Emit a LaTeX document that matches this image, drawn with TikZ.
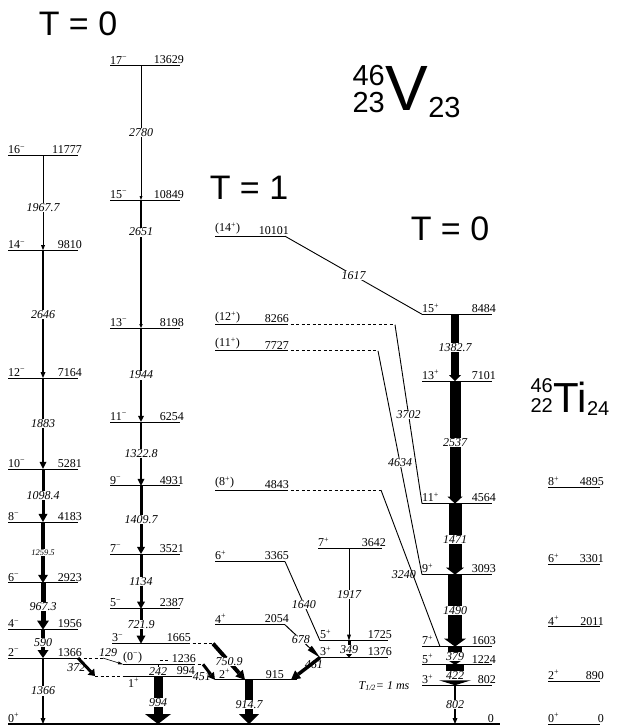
\documentclass[tikz,border=0pt]{standalone}
\usepackage{fontspec}
\setmainfont{Liberation Serif}
\newfontfamily\hv{Liberation Sans}
\usetikzlibrary{arrows.meta,calc}

\newcommand{\lab}{\fontsize{12}{13}\selectfont}
\newcommand{\mi}{\textsuperscript{−}}
\newcommand{\pl}{\textsuperscript{+}}
% level: name, x left, x right, energy, spin
\newcommand{\level}[5]{%
  \draw[lvl] (#2,{724-0.0483*#4}) coordinate (#1w) -- (#3,{724-0.0483*#4}) coordinate (#1e);
  \node[jlab] (#1j) at (#1w) {#5};
  \node[elab] (#1n) at (#1e) {#4};
}

\begin{document}
\begin{tikzpicture}[x=1pt, y=-1pt,
  lvl/.style={line width=0.9pt},
  gnd/.style={line width=1.6pt},
  dl/.style={line width=0.8pt, dash pattern=on 3pt off 2.5pt},
  gl/.style={line width=0.9pt},
  g/.style args={#1/#2/#3}{line width=#1, -{Triangle[length=#2, width=#3, line width=0pt]}},
  jlab/.style={anchor=south west, inner sep=0pt, yshift=1.5pt, font=\lab},
  elab/.style={anchor=south east, inner sep=0pt, xshift=4pt, yshift=1.5pt, font=\lab},
  tlab/.style={font=\lab\itshape, fill=white, inner sep=0.5pt},
  big/.style={font=\hv\fontsize{34}{34}\selectfont, inner sep=0pt},
  nuc/.style={font=\hv\fontsize{#1}{#1}\selectfont, inner sep=0pt}]
\useasboundingbox (0,0) rectangle (617,728);

\coordinate (c1) at (43,0);
\coordinate (c2) at (141,0);
\coordinate (c3) at (455,0);
\coordinate (c4) at (349,0);

\node[big] (tza) at (78,24) {T = 0};
\node[big] (tone) at (249,188) {T = 1};
\node[big] (tzb) at (450,229) {T = 0};

\node[nuc=64, anchor=base west] (vsym) at (385,110) {V};
\node[nuc=29, anchor=base east] (vmass) at (vsym.base west |- 0,85) {46};
\node[nuc=29, anchor=base east] (vz) at (vsym.base west |- 0,112) {23};
\node[nuc=29, anchor=base west] (vn) at (vsym.base east |- 0,117) {23};

\node[nuc=42, anchor=base west] (tisym) at (553,412) {Ti};
\node[nuc=20, anchor=base east] (timass) at (tisym.base west |- 0,392) {46};
\node[nuc=20, anchor=base east] (tiz) at (tisym.base west |- 0,412) {22};
\node[nuc=20, anchor=base west] (tin) at (tisym.base east |- 0,415) {24};

% ground
\draw[gnd] (8,724) coordinate (g0w) -- (500,724) coordinate (g0e);
\node[jlab] (g0j) at (g0w) {0\pl};
\node[elab, xshift=-10pt] (g0n) at (g0e) {0};

% T=0 negative parity
\level{a16}{8}{78}{11777}{16\mi}
\level{a14}{8}{78}{9810}{14\mi}
\level{a12}{8}{78}{7164}{12\mi}
\level{a10}{8}{78}{5281}{10\mi}
\level{a8}{8}{78}{4183}{8\mi}
\level{a6}{8}{78}{2923}{6\mi}
\level{a4}{8}{78}{1956}{4\mi}
\level{a2}{8}{78}{1366}{2\mi}

\level{b17}{110}{180}{13629}{17\mi}
\level{b15}{110}{180}{10849}{15\mi}
\level{b13}{110}{180}{8198}{13\mi}
\level{b11}{110}{180}{6254}{11\mi}
\level{b9}{110}{180}{4931}{9\mi}
\level{b7}{110}{180}{3521}{7\mi}
\level{b5}{110}{180}{2387}{5\mi}
\level{b3}{112}{187}{1665}{3\mi}
\level{b0}{123}{192}{1236}{(0\mi)}
\draw[lvl] (123,{724-0.0483*994}) coordinate (b1w) -- (192,{724-0.0483*994}) coordinate (b1e);
\node[anchor=north west, inner sep=0pt, font=\lab, yshift=-2pt, xshift=5pt] (b1j) at (b1w) {1\pl};
\node[elab, xshift=-1pt] (b1n) at (b1e) {994};
\draw[dl] ($(b0n.south west)+(-12,-2)$) -- ++(10,0);

% T=1
\level{t14}{215}{285}{10101}{(14\pl)}
\level{t12}{215}{285}{8266}{(12\pl)}
\level{t11}{215}{285}{7727}{(11\pl)}
\level{t8}{215}{285}{4843}{(8\pl)}
\level{t6}{215}{285}{3365}{6\pl}
\level{t4}{215}{285}{2054}{4\pl}
\draw[lvl] (215,{724-0.0483*915}) coordinate (t2w) -- (297,{724-0.0483*915}) coordinate (t2e);
\node[jlab, xshift=4pt] (t2j) at (t2w) {2\pl};
\node[elab, xshift=-17pt] (t2n) at (t2e) {915};

\level{m7}{318}{382}{3642}{7\pl}
\level{m5}{320}{388}{1725}{5\pl}
\level{m3}{320}{388}{1376}{3\pl}

% T=0 positive parity
\level{r15}{422}{492}{8484}{15\pl}
\level{r13}{422}{492}{7101}{13\pl}
\level{r11}{422}{492}{4564}{11\pl}
\level{r9}{422}{492}{3093}{9\pl}
\level{r7}{422}{492}{1603}{7\pl}
\level{r5}{422}{492}{1224}{5\pl}
\level{r3}{422}{492}{802}{3\pl}

% 46Ti
\level{ti8}{548}{600}{4895}{8\pl}
\level{ti6}{548}{600}{3301}{6\pl}
\level{ti4}{548}{600}{2011}{4\pl}
\level{ti2}{548}{600}{890}{2\pl}
\level{ti0}{548}{600}{0}{0\pl}

\node[font=\lab\itshape, inner sep=0pt] (thalf) at (384,686) {T\textsubscript{1/2}= 1 ms};

% transitions
\draw[g=1pt/5pt/4pt] (c1|-a16w) -- node[tlab,pos=.55]{1967.7} (c1|-a14w);
\draw[g=2pt/6pt/5pt] (c1|-a14w) -- node[tlab]{2646} (c1|-a12w);
\draw[g=2.6pt/7pt/7pt] (c1|-a12w) -- node[tlab]{1883} (c1|-a10w);
\draw[g=3pt/8pt/9pt] (c1|-a10w) -- node[tlab]{1098.4} (c1|-a8w);
\draw[g=4.5pt/8pt/10pt] (c1|-a8w) -- node[tlab,font=\fontsize{8.5}{9}\selectfont\itshape]{1259.5} (c1|-a6w);
\draw[g=5pt/9pt/12pt] (c1|-a6w) -- node[tlab]{967.3} (c1|-a4w);
\draw[g=4pt/8pt/11pt] (c1|-a4w) -- node[tlab,pos=.45]{590} (c1|-a2w);
\draw[g=1.4pt/6pt/5pt] (c1|-a2w) -- node[tlab]{1366} (c1|-g0w);

\draw[g=1pt/4pt/3pt] (c2|-b17w) -- node[tlab]{2780} (c2|-b15w);
\draw[g=1.2pt/4pt/3.5pt] (c2|-b15w) -- node[tlab,pos=.25]{2651} (c2|-b13w);
\draw[g=2.2pt/6pt/6pt] (c2|-b13w) -- node[tlab]{1944} (c2|-b11w);
\draw[g=2.5pt/7pt/7pt] (c2|-b11w) -- node[tlab]{1322.8} (c2|-b9w);
\draw[g=3pt/7pt/8pt] (c2|-b9w) -- node[tlab]{1409.7} (c2|-b7w);
\draw[g=3pt/7pt/8pt] (c2|-b7w) -- node[tlab]{1134} (c2|-b5w);
\draw[g=3pt/8pt/9pt] (c2|-b5w) -- node[tlab,pos=.45]{721.9} (c2|-b3w);

\draw[g=8pt/6pt/12pt] (c3|-r15w) -- node[tlab]{1382.7} (c3|-r13w);
\draw[g=11pt/7pt/15pt] (c3|-r13w) -- node[tlab]{2537} (c3|-r11w);
\draw[g=13pt/7pt/18pt] (c3|-r11w) -- node[tlab]{1471} (c3|-r9w);
\draw[g=14pt/8pt/22pt] (c3|-r9w) -- node[tlab]{1490} (c3|-r7w);
\draw[g=14pt/6pt/18pt] (c3|-r7w) -- node[tlab,pos=.55]{379} (c3|-r5w);
\draw[g=18pt/5pt/32pt] (c3|-r5w) -- node[tlab]{422} (c3|-r3w);
\draw[g=1.4pt/6pt/5pt] (c3|-r3w) -- node[tlab]{802} (c3|-g0w);

\draw[gl] (t14e) -- node[tlab]{1617} (r15w);
\draw[dl] (t12e) -- ++(110,0) coordinate (t12x);
\draw[gl] (t12x) -- node[tlab]{3702} (r11w);
\draw[dl] (t11e) -- ++(93,0) coordinate (t11x);
\draw[gl] (t11x) -- node[tlab]{4634} (r9w);
\draw[dl] (t8e) -- ++(96,0) coordinate (t8x);
\coordinate (r7a) at ($(r7w)+(18,0)$);
\draw[gl] (t8x) -- node[tlab,pos=.54,xshift=-9pt,fill=none]{3240} (r7a);

\draw[gl] (t6e) -- node[tlab,pos=.54]{1640} (m5w);
\draw[g=1pt/14pt/6pt] (t4e) -- node[tlab,pos=.45]{678} (m3w);
\draw[g=1pt/6pt/4pt] (c4|-m7w) -- node[tlab]{1917} (c4|-m5w);
\draw[g=3pt/4pt/7pt] (c4|-m5w) -- node[tlab]{349} (c4|-m3w);
\coordinate (t2a) at ($(t2e)+(-6,0)$);
\draw[g=3.5pt/9pt/10pt] (m3w) -- node[tlab,pos=.6,fill=none,above right=0pt]{461} (t2a);

\draw[dl] (b3e) -- ++(26,0) coordinate (b3x);
\coordinate (t2b) at ($(t2w)+(30,0)$);
\draw[g=4pt/9pt/10pt] (b3x) -- node[tlab]{750.9} (t2b);
\draw[dl] (b0e) -- ++(11,0) coordinate (b0x);
\draw[g=3pt/7pt/8pt] (b0x) -- node[tlab,fill=none,anchor=north east,pos=.4,xshift=5pt]{451} (t2w);

\draw[dl] (a2e) -- ++(25,0) coordinate (a2x);
\node[tlab, fill=none, anchor=south] (l129) at ($(a2x)+(5,-1)$) {129};
\draw[g=.6pt/5pt/3pt] (a2x) -- (b0w);
\coordinate (b1x) at ($(b1w)+(-28,0)$);
\draw[dl] (b1x) -- (b1w);
\draw[g=3pt/6pt/9pt] (a2e) -- node[tlab,left=0pt,pos=.55,fill=none]{372} (b1x);

\coordinate (b0a) at ($(b0w)+(35,0)$);
\coordinate (b1a) at ($(b1w)+(35,0)$);
\draw[g=1pt/2pt/2.5pt] (b0a) -- node[tlab,pos=.65]{242} (b1a);
\draw[g=9pt/10pt/26pt] (b1a) -- node[tlab,pos=.55]{994} (b1a|-g0w);
\coordinate (t2c) at ($(t2w)+(34,0)$);
\draw[g=8pt/10pt/20pt] (t2c) -- node[tlab,pos=.55]{914.7} (t2c|-g0w);
\end{tikzpicture}
\end{document}
